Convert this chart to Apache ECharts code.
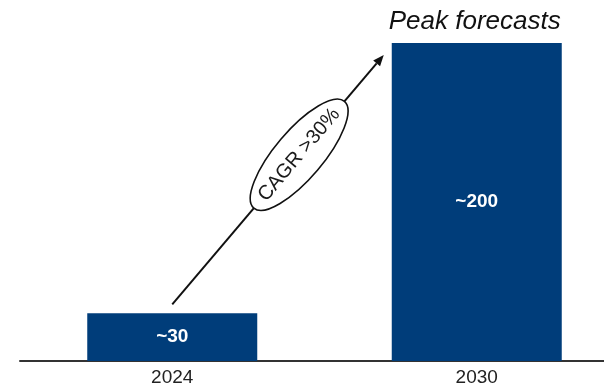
<!DOCTYPE html>
<html>
<head>
<meta charset="utf-8">
<script src="https://cdn.jsdelivr.net/npm/echarts@6/dist/echarts.min.js"></script>
<style>
  html, body { margin: 0; padding: 0; background: #fff; }
  #chart { width: 604px; height: 387px; }
</style>
</head>
<body>
<div id="chart"></div>
<script>
// Market size by year (approximate values shown as "~" labels)
const years = ['2024', '2030'];
const values = [30, 200];
const valueLabels = ['~30', '~200'];
const growthNote = 'CAGR >30%';
const forecastNote = 'Peak forecasts';

const BAR_COLOR = '#003d7a';
const FONT = 'Liberation Sans, Arial, sans-serif';

const chart = echarts.init(document.getElementById('chart'), null, { renderer: 'canvas' });

chart.setOption({
  animation: false,
  // plot area runs a little past the right edge so the axis line is cut off there
  grid: { left: 20, width: 609, top: 43, height: 318, outerBoundsMode: 'none', containLabel: false },
  xAxis: {
    type: 'category',
    data: years,
    axisLine: { lineStyle: { color: '#333', width: 2 } },
    axisTick: { show: false },
    axisLabel: { color: '#222', fontSize: 19, fontFamily: FONT, margin: 7 }
  },
  yAxis: {
    type: 'value', min: 0, max: 200, show: false,
    splitLine: { show: false }
  },
  series: [{
    type: 'bar',
    data: values,
    barWidth: 170,
    itemStyle: { color: BAR_COLOR },
    label: {
      show: true,
      position: 'inside',
      color: '#fff',
      fontSize: 19,
      fontWeight: 'bold',
      fontFamily: FONT,
      formatter: p => valueLabels[p.dataIndex]
    }
  }]
});

// Growth arrow from the first bar towards the top of the second, with an
// elliptical callout, plus the note above the forecast bar.
function drawAnnotations() {
  const p0 = chart.convertToPixel({ xAxisIndex: 0, yAxisIndex: 0 }, [0, values[0]]);
  const p1 = chart.convertToPixel({ xAxisIndex: 0, yAxisIndex: 0 }, [1, values[1]]);
  const halfBar = 85;

  const sx = p0[0], sy = p0[1] - 9;
  const ex = p1[0] - halfBar - 8, ey = p1[1] + 12;
  const dx = ex - sx, dy = ey - sy;
  const len = Math.sqrt(dx * dx + dy * dy);
  const ux = dx / len, uy = dy / len;
  const angle = Math.atan2(-dy, dx);

  // arrowhead
  const headLen = 11, headHalf = 4.5;
  const bx = ex - ux * headLen, by = ey - uy * headLen;
  const nx = -uy, ny = ux;

  const t = 0.6;
  const cx = sx + dx * t, cy = sy + dy * t;

  chart.setOption({
    graphic: [
      {
        type: 'line', silent: true,
        shape: { x1: sx, y1: sy, x2: bx, y2: by },
        style: { stroke: '#111', lineWidth: 2 }
      },
      {
        type: 'polygon', silent: true,
        shape: { points: [[ex, ey], [bx + nx * headHalf, by + ny * headHalf], [bx - nx * headHalf, by - ny * headHalf]] },
        style: { fill: '#111' }
      },
      {
        type: 'ellipse', silent: true,
        x: cx, y: cy, rotation: angle,
        shape: { cx: 0, cy: 0, rx: 70, ry: 24 },
        style: { fill: '#fff', stroke: '#111', lineWidth: 1.6 }
      },
      {
        type: 'text', silent: true,
        x: cx, y: cy, rotation: angle,
        style: {
          text: growthNote, fill: '#1a1a1a', fontSize: 20, fontFamily: FONT,
          align: 'center', verticalAlign: 'middle'
        }
      },
      {
        type: 'text', silent: true,
        x: p1[0] - 2, y: 22,
        style: {
          text: forecastNote, fill: '#111', fontSize: 26, fontStyle: 'italic',
          fontFamily: FONT, align: 'center', verticalAlign: 'middle'
        }
      }
    ]
  });
}

drawAnnotations();
</script>
</body>
</html>
